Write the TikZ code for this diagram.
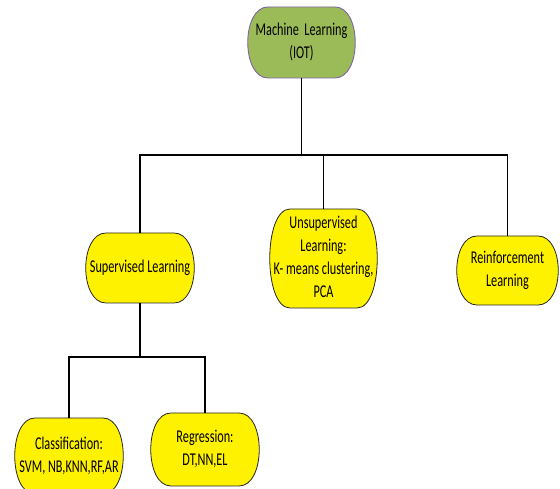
\documentclass[tikz,border=0pt]{standalone}
\usepackage{fontspec}
\setmainfont{Carlito}
\usetikzlibrary{backgrounds}
\definecolor{mlgreen}{HTML}{9BBB59}
\definecolor{mlpurple}{HTML}{8064A2}
\newcommand\sqtext[1]{\scalebox{0.68}[1]{\fontsize{18}{23}\selectfont\begin{tabular}{@{}c@{}}#1\end{tabular}}}
\newcommand\blobpath[2]{%
  \path[#2] ([xshift=20pt]#1.north west) -- ([xshift=-20pt]#1.north east)
    .. controls ([xshift=7pt]#1.north east) and ([xshift=7pt]#1.south east) .. ([xshift=-20pt]#1.south east)
    -- ([xshift=20pt]#1.south west)
    .. controls ([xshift=-7pt]#1.south west) and ([xshift=-7pt]#1.north west) .. cycle;}
\tikzset{
  box/.style={rectangle, inner sep=0pt, outer sep=0pt, align=center},
  yblob/.style={fill=yellow, draw=black!85, line width=0.8pt},
  gblob/.style={fill=mlgreen, draw=mlpurple, line width=0.9pt},
  conn/.style={draw=black, line width=1.6pt}
}
\begin{document}
\begin{tikzpicture}[x=1pt,y=1pt]
\useasboundingbox (0,0) rectangle (560,489);
\clip (0,0) rectangle (560,489);
\node[box, minimum width=107pt, minimum height=71pt] (root) at (301.5,446.5) {\sqtext{Machine\ \ Learning\\(IOT)}};
\node[box, minimum width=108pt, minimum height=70pt] (sup) at (140,221) {\sqtext{Supervised Learning}};
\node[box, minimum width=107pt, minimum height=99pt] (unsup) at (323.5,230.5) {\sqtext{Unsupervised\\Learning:\\K- means clustering,\\PCA}};
\node[box, minimum width=101pt, minimum height=69pt] (reinf) at (507.5,218.5) {\sqtext{Reinforcement\\Learning}};
\node[box, minimum width=108pt, minimum height=76pt] (class) at (69,33) {\sqtext{Classification:\\SVM, NB,KNN,RF,AR}};
\node[box, minimum width=108pt, minimum height=73pt] (reg) at (205,39.5) {\sqtext{Regression:\\DT,NN,EL}};
\begin{pgfonlayer}{background}
\fill[white] (0,0) rectangle (560,489);
\blobpath{root}{gblob}
\blobpath{sup}{yblob}
\blobpath{unsup}{yblob}
\blobpath{reinf}{yblob}
\blobpath{class}{yblob}
\blobpath{reg}{yblob}
\end{pgfonlayer}
\coordinate (hub) at (301.5,334);
\coordinate (hubb) at (140,132);
\draw[conn] (root.south) -- (hub);
\draw[conn] (sup.north) -- (sup.north |- hub) -- (reinf.north |- hub) -- (reinf.north);
\draw[conn] (unsup.north) -- (unsup.north |- hub);
\draw[conn] (sup.south) -- (hubb);
\draw[conn] (class.north) -- (class.north |- hubb) -- (reg.north |- hubb) -- (reg.north);
\end{tikzpicture}
\end{document}
